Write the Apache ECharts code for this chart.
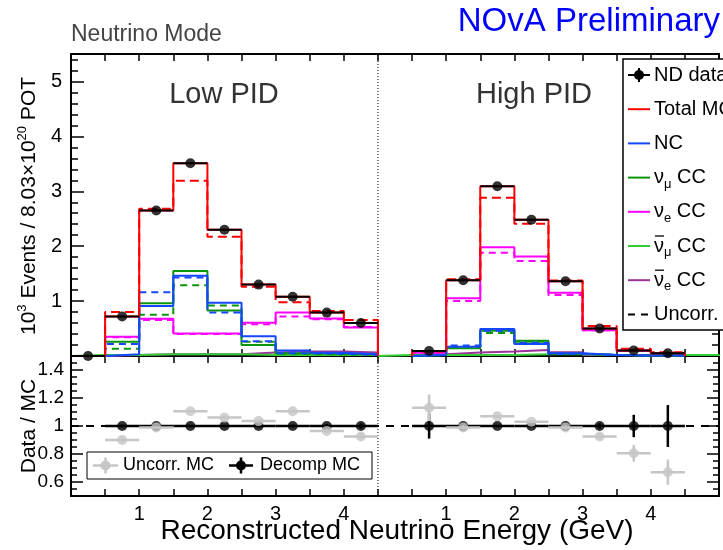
<!DOCTYPE html>
<html>
<head>
<meta charset="utf-8">
<script src="https://cdn.jsdelivr.net/npm/echarts@6/dist/echarts.min.js"></script>
<style>
  html, body { margin: 0; padding: 0; background: #fff; }
  #chart { width: 723px; height: 550px; }
</style>
</head>
<body>
<div id="chart"></div>
<script>
// ---- Binning: both PID panels share one energy axis, the high-PID panel is shifted by 4.5 GeV ----
const BIN_WIDTH = 0.5;
const HIGH_OFFSET = 4.5;
const lowEdge0 = 0.0;   // first low-PID bin starts at 0 GeV
const highEdge0 = 0.5;  // first high-PID bin starts at 0.5 GeV
const numubarHighEdge0 = 0.0; // anti-numu CC is filled over the whole high-PID range

// ---- Low PID (10^3 events) ----
const lowData      = [0, 0.72, 2.65, 3.51, 2.30, 1.30, 1.08, 0.79, 0.60];
const lowTotal     = [0, 0.72, 2.65, 3.51, 2.30, 1.30, 1.08, 0.79, 0.60];
const lowTotalUnc  = [0, 0.80, 2.68, 3.19, 2.17, 1.26, 0.98, 0.82, 0.655];
const lowNC        = [0, 0.03, 0.91, 1.46, 0.97, 0.36, 0.10, 0.06, 0.03];
const lowNCUnc     = [0, 0.22, 1.16, 1.43, 0.79, 0.27, 0.05, 0.04, 0.02];
const lowNumu      = [0, 0.26, 0.96, 1.55, 0.83, 0.20, 0.05, 0.04, 0.03];
const lowNumuUnc   = [0, 0.13, 0.75, 1.29, 0.92, 0.26, 0.04, 0.03, 0.02];
const lowNue       = [0, 0.35, 0.68, 0.41, 0.41, 0.605, 0.79, 0.685, 0.52];
const lowNueUnc    = [0, 0.34, 0.655, 0.40, 0.40, 0.58, 0.72, 0.67, 0.53];
const lowNumubar   = [0.02, 0.02, 0.03, 0.03, 0.03, 0.02, 0.02, 0.02, 0.02];
const lowNuebar    = [0, 0.02, 0.03, 0.03, 0.03, 0.065, 0.08, 0.08, 0.065];

// ---- High PID (10^3 events), bins from 0.5 to 4.5 GeV ----
const highData     = [0.09, 1.38, 3.09, 2.48, 1.36, 0.50, 0.10, 0.05];
const highTotal    = [0.09, 1.38, 3.09, 2.48, 1.36, 0.50, 0.10, 0.05];
const highTotalUnc = [0.08, 1.40, 2.88, 2.41, 1.375, 0.545, 0.13, 0.07];
const highNC       = [0.02, 0.17, 0.49, 0.22, 0.05, 0.02, 0.01, 0.01];
const highNCUnc    = [0.02, 0.19, 0.46, 0.24, 0.04, 0.02, 0.01, 0.01];
const highNumu     = [0.02, 0.14, 0.46, 0.28, 0.04, 0.02, 0.01, 0.01];
const highNumuUnc  = [0.02, 0.15, 0.42, 0.26, 0.04, 0.02, 0.01, 0.01];
const highNue      = [0.06, 1.05, 1.98, 1.81, 1.15, 0.47, 0.09, 0.04];
const highNueUnc   = [0.055, 1.00, 1.88, 1.73, 1.11, 0.47, 0.10, 0.05];
const highNuebar   = [0.03, 0.065, 0.08, 0.11, 0.07, 0.02, 0.01, 0.01];
// anti-numu CC, bins from 0 to 5 GeV
const highNumubar  = [0.02, 0.02, 0.02, 0.02, 0.03, 0.03, 0.02, 0.02, 0.02, 0.02];

// ---- Data / MC ratios (bins from 0.5 GeV in each panel) ----
const lowRatioUnc      = [0.90, 0.99, 1.105, 1.06, 1.035, 1.105, 0.965, 0.925];
const lowRatioUncErr   = [0.015, 0.005, 0.005, 0.005, 0.01, 0.01, 0.015, 0.02];
const lowRatioDecomp   = [1, 1, 1, 1, 1, 1, 1, 1];
const lowRatioDecompErr= [0.01, 0.005, 0.005, 0.005, 0.01, 0.01, 0.015, 0.02];
const highRatioUnc      = [1.13, 0.99, 1.07, 1.03, 0.99, 0.925, 0.805, 0.67];
const highRatioUncErr   = [0.095, 0.015, 0.01, 0.01, 0.015, 0.02, 0.06, 0.09];
const highRatioDecomp   = [1, 1, 1, 1, 1, 1, 1, 1];
const highRatioDecompErr= [0.09, 0.01, 0.005, 0.005, 0.01, 0.02, 0.08, 0.15];

// ---- Axis ticks ----
const energyLabels = [1, 2, 3, 4];
const eventLabels = [1, 2, 3, 4, 5];
const ratioLabels = [0.6, 0.8, 1, 1.2, 1.4];
const ratioMinor = [0.55, 0.65, 0.7, 0.75, 0.85, 0.9, 0.95, 1.05, 1.1, 1.15, 1.25, 1.3, 1.35, 1.45];

const FONT = "'Liberation Sans', Arial, Helvetica, sans-serif";
const C = {
  total: '#ff0000', nc: '#1447ff', numu: '#0a960a', nue: '#ff00ff',
  numubar: '#33cc33', nuebar: '#993399', gray: '#c6c6c6', black: '#000000'
};

// Outline of a histogram in the shared-axis coordinates
function outline(edge0, vals, shift) {
  const pts = [[shift + edge0, 0]];
  vals.forEach((v, i) => {
    pts.push([shift + edge0 + i * BIN_WIDTH, v], [shift + edge0 + (i + 1) * BIN_WIDTH, v]);
  });
  pts.push([shift + edge0 + vals.length * BIN_WIDTH, 0]);
  return pts;
}
function histSeries(name, color, dash, lowVals, highVals, z, highStart) {
  return [
    outline(lowEdge0, lowVals, 0),
    outline(highStart === undefined ? highEdge0 : highStart, highVals, HIGH_OFFSET)
  ].map(pts => ({
    type: 'line', name, xAxisIndex: 0, yAxisIndex: 0, z,
    data: pts, symbol: 'none', silent: true, animation: false,
    lineStyle: { color, width: 2, type: dash || 'solid' }
  }));
}
function centres(edge0, n, shift) {
  return Array.from({ length: n }, (_, i) => shift + edge0 + (i + 0.5) * BIN_WIDTH);
}
// Points with errors: [x, y, xErr, yErr]
function pointsWithErr(xs, ys, errs) {
  return xs.map((x, i) => [x, ys[i], BIN_WIDTH / 2, errs ? errs[i] : 0]);
}
function errorBars(color, width) {
  return function (params, api) {
    const x = api.value(0), y = api.value(1), ex = api.value(2), ey = api.value(3);
    const l = api.coord([x - ex, y]), r = api.coord([x + ex, y]);
    const t = api.coord([x, y + ey]), b = api.coord([x, y - ey]);
    return {
      type: 'group', children: [
        { type: 'line', shape: { x1: l[0], y1: l[1], x2: r[0], y2: r[1] }, style: { stroke: color, lineWidth: width } },
        { type: 'line', shape: { x1: t[0], y1: t[1], x2: b[0], y2: b[1] }, style: { stroke: color, lineWidth: width } }
      ]
    };
  };
}

const lowX = centres(lowEdge0, lowData.length, 0);
const highX = centres(highEdge0, highData.length, HIGH_OFFSET);
const lowRX = centres(0.5, lowRatioUnc.length, 0);
const highRX = centres(0.5, highRatioUnc.length, HIGH_OFFSET);

const dataPts = pointsWithErr(lowX, lowData).concat(pointsWithErr(highX, highData));
const ratioDecompPts = pointsWithErr(lowRX, lowRatioDecomp, lowRatioDecompErr)
  .concat(pointsWithErr(highRX, highRatioDecomp, highRatioDecompErr));
const ratioUncPts = pointsWithErr(lowRX, lowRatioUnc, lowRatioUncErr)
  .concat(pointsWithErr(highRX, highRatioUnc, highRatioUncErr));

function energyLabel(v) {
  for (const e of energyLabels) {
    if (Math.abs(v - e) < 1e-6 || Math.abs(v - e - HIGH_OFFSET) < 1e-6) return String(e);
  }
  return '';
}

function frameLine() {
  return { show: true, onZero: false, lineStyle: { color: '#000', width: 2 } };
}
function tickStyle() {
  return { color: '#000', width: 1.5 };
}
function xAx(grid, pos, labels) {
  return {
    type: 'value', gridIndex: grid, position: pos, min: 0, max: 9.5, interval: 0.5,
    axisLine: frameLine(), splitLine: { show: false },
    axisTick: { show: true, inside: true, length: 7, lineStyle: tickStyle() },
    axisLabel: labels ? { show: true, formatter: energyLabel, fontFamily: FONT, fontSize: 20, color: '#000', margin: 8 } : { show: false }
  };
}
function yTop(pos, labels) {
  return {
    type: 'value', gridIndex: 0, position: pos, min: 0, max: 5.5, interval: 1,
    axisLine: frameLine(), splitLine: { show: false },
    axisTick: { show: true, inside: true, length: 13, lineStyle: tickStyle() },
    minorTick: { show: true, splitNumber: 5, length: 7, lineStyle: tickStyle() },
    axisLabel: labels ? { show: true, formatter: v => (eventLabels.indexOf(v) >= 0 ? String(v) : ''), fontFamily: FONT, fontSize: 20, color: '#000', margin: 9 } : { show: false }
  };
}
function yRatio(pos, labels) {
  return {
    type: 'value', gridIndex: 1, position: pos, min: 0.5, max: 1.5,
    axisLine: frameLine(), splitLine: { show: false },
    axisTick: { show: true, inside: true, length: 12, customValues: ratioLabels, lineStyle: tickStyle() },
    axisLabel: labels ? { show: true, customValues: ratioLabels, formatter: v => String(+v.toFixed(1)), fontFamily: FONT, fontSize: 19, color: '#000', margin: 7 } : { show: false }
  };
}
function yRatioMinor(pos) {
  return {
    type: 'value', gridIndex: 1, position: pos, min: 0.5, max: 1.5,
    axisLine: { show: false, onZero: false }, splitLine: { show: false },
    axisTick: { show: true, inside: true, length: 6, customValues: ratioMinor, lineStyle: tickStyle() },
    axisLabel: { show: false }
  };
}

const series = [].concat(
  histSeries('ν̄e CC', C.nuebar, null, lowNuebar, highNuebar, 2),
  histSeries('ν̄μ CC', C.numubar, null, lowNumubar, highNumubar, 2, numubarHighEdge0),
  histSeries('νe CC uncorr', C.nue, [7, 5], lowNueUnc, highNueUnc, 3),
  histSeries('νe CC', C.nue, null, lowNue, highNue, 3),
  histSeries('νμ CC uncorr', C.numu, [7, 5], lowNumuUnc, highNumuUnc, 3),
  histSeries('νμ CC', C.numu, null, lowNumu, highNumu, 3),
  histSeries('NC uncorr', C.nc, [7, 5], lowNCUnc, highNCUnc, 4),
  histSeries('NC', C.nc, null, lowNC, highNC, 4),
  histSeries('Total MC uncorr', C.total, [9, 5], lowTotalUnc, highTotalUnc, 5),
  histSeries('Total MC', C.total, null, lowTotal, highTotal, 5),
  [
    // PID separators
    { type: 'line', xAxisIndex: 0, yAxisIndex: 0, data: [[HIGH_OFFSET, 0], [HIGH_OFFSET, 5.5]], symbol: 'none', silent: true, z: 1,
      lineStyle: { color: '#000', width: 1, type: [1, 2] } },
    { type: 'line', xAxisIndex: 2, yAxisIndex: 2, data: [[HIGH_OFFSET, 0.5], [HIGH_OFFSET, 1.5]], symbol: 'none', silent: true, z: 1,
      lineStyle: { color: '#000', width: 1, type: [1, 2] } },
    // ND data
    { type: 'custom', name: 'ND data bars', xAxisIndex: 0, yAxisIndex: 0, data: dataPts, encode: { x: 0, y: 1 },
      renderItem: errorBars(C.black, 2), z: 8, silent: true },
    { type: 'scatter', name: 'ND data', xAxisIndex: 0, yAxisIndex: 0, data: dataPts.map(p => [p[0], p[1]]),
      symbol: 'circle', symbolSize: 10, itemStyle: { color: C.black }, z: 9, clip: false, silent: true },
    // ratio reference line
    { type: 'line', xAxisIndex: 2, yAxisIndex: 2, data: [[0, 1], [9.5, 1]], symbol: 'none', silent: true, z: 2,
      lineStyle: { color: '#000', width: 2, type: [8, 7] } },
    // Decomp MC ratio
    { type: 'custom', name: 'Decomp bars', xAxisIndex: 2, yAxisIndex: 2, data: ratioDecompPts, encode: { x: 0, y: 1 },
      renderItem: errorBars(C.black, 2.5), z: 5, silent: true },
    { type: 'scatter', name: 'Decomp MC', xAxisIndex: 2, yAxisIndex: 2, data: ratioDecompPts.map(p => [p[0], p[1]]),
      symbol: 'circle', symbolSize: 10, itemStyle: { color: C.black }, z: 6, silent: true },
    // Uncorrected MC ratio
    { type: 'custom', name: 'Uncorr bars', xAxisIndex: 2, yAxisIndex: 2, data: ratioUncPts, encode: { x: 0, y: 1 },
      renderItem: errorBars(C.gray, 2.5), z: 7, silent: true },
    { type: 'scatter', name: 'Uncorr. MC', xAxisIndex: 2, yAxisIndex: 2, data: ratioUncPts.map(p => [p[0], p[1]]),
      symbol: 'circle', symbolSize: 10, itemStyle: { color: C.gray }, z: 8, silent: true }
  ]
);

// ---- Legend (drawn as graphics; the box runs past the right edge) ----
const LEG_X = 623, LEG_Y = 59, LEG_ROW = 34.2, LEG_FIRST = 75;
const legendRows = [
  { text: 'ND data', kind: 'data' },
  { text: 'Total MC', color: C.total },
  { text: 'NC', color: C.nc },
  { text: '{n|ν}{s|μ}{n| CC}', color: C.numu },
  { text: '{n|ν}{s|e}{n| CC}', color: C.nue },
  { text: '{n|ν}{s|μ}{n| CC}', color: C.numubar, bar: true },
  { text: '{n|ν}{s|e}{n| CC}', color: C.nuebar, bar: true },
  { text: 'Uncorr. MC', kind: 'dash' }
];
const legendRich = {
  n: { fontFamily: FONT, fontSize: 20, color: '#000', lineHeight: 26, verticalAlign: 'middle' },
  s: { fontFamily: FONT, fontSize: 13, color: '#000', lineHeight: 26, verticalAlign: 'bottom' }
};
const graphics = [
  { type: 'rect', z: 100, shape: { x: LEG_X, y: LEG_Y, width: 160, height: 271 },
    style: { fill: '#fff', stroke: '#000', lineWidth: 1.5 } }
];
legendRows.forEach((row, i) => {
  const y = LEG_FIRST + i * LEG_ROW;
  if (row.kind === 'data') {
    graphics.push(
      { type: 'line', z: 101, shape: { x1: 628, y1: y, x2: 650, y2: y }, style: { stroke: '#000', lineWidth: 2 } },
      { type: 'line', z: 101, shape: { x1: 639, y1: y - 7, x2: 639, y2: y + 7 }, style: { stroke: '#000', lineWidth: 2 } },
      { type: 'circle', z: 102, shape: { cx: 639, cy: y, r: 5 }, style: { fill: '#000' } }
    );
  } else if (row.kind === 'dash') {
    graphics.push({ type: 'line', z: 101, shape: { x1: 628, y1: y, x2: 650, y2: y },
      style: { stroke: '#000', lineWidth: 2, lineDash: [7, 6] } });
  } else {
    graphics.push({ type: 'line', z: 101, shape: { x1: 628, y1: y, x2: 650, y2: y },
      style: { stroke: row.color, lineWidth: 2 } });
  }
  if (row.bar) {
    // bar over the antineutrino symbol
    graphics.push({ type: 'line', z: 101, shape: { x1: 655, y1: y - 10, x2: 664, y2: y - 10 },
      style: { stroke: '#000', lineWidth: 1.3 } });
  }
  const isRich = row.text.indexOf('{') === 0;
  graphics.push({
    type: 'text', z: 101, x: 654, y: y,
    style: isRich
      ? { text: row.text, rich: legendRich, textVerticalAlign: 'middle', textAlign: 'left' }
      : { text: row.text, fontFamily: FONT, fontSize: 20, fill: '#000', textVerticalAlign: 'middle', textAlign: 'left' }
  });
});

// ---- Ratio legend ----
const RL_Y = 465.5;
graphics.push(
  { type: 'rect', z: 100, shape: { x: 87, y: 452, width: 285, height: 27 }, style: { fill: '#fff', stroke: '#000', lineWidth: 1 } },
  { type: 'line', z: 101, shape: { x1: 93, y1: RL_Y, x2: 118, y2: RL_Y }, style: { stroke: C.gray, lineWidth: 2.5 } },
  { type: 'line', z: 101, shape: { x1: 105.5, y1: RL_Y - 8, x2: 105.5, y2: RL_Y + 8 }, style: { stroke: C.gray, lineWidth: 2.5 } },
  { type: 'circle', z: 102, shape: { cx: 105.5, cy: RL_Y, r: 5 }, style: { fill: C.gray } },
  { type: 'text', z: 101, x: 123, y: RL_Y, style: { text: 'Uncorr. MC', fontFamily: FONT, fontSize: 18, fill: '#000', textVerticalAlign: 'middle' } },
  { type: 'line', z: 101, shape: { x1: 229, y1: RL_Y, x2: 253, y2: RL_Y }, style: { stroke: '#000', lineWidth: 2.5 } },
  { type: 'line', z: 101, shape: { x1: 241, y1: RL_Y - 8, x2: 241, y2: RL_Y + 8 }, style: { stroke: '#000', lineWidth: 2.5 } },
  { type: 'circle', z: 102, shape: { cx: 241, cy: RL_Y, r: 5 }, style: { fill: '#000' } },
  { type: 'text', z: 101, x: 260, y: RL_Y, style: { text: 'Decomp MC', fontFamily: FONT, fontSize: 18, fill: '#000', textVerticalAlign: 'middle' } }
);

// ---- Titles and panel labels ----
graphics.push(
  { type: 'text', x: 720, y: 22, style: { text: 'NOvA Preliminary', fontFamily: FONT, fontSize: 33, fill: '#0000ff', textAlign: 'right', textVerticalAlign: 'middle' } },
  { type: 'text', x: 71, y: 35, style: { text: 'Neutrino Mode', fontFamily: FONT, fontSize: 23, fill: '#444', textAlign: 'left', textVerticalAlign: 'middle' } },
  { type: 'text', x: 224, y: 95, style: { text: 'Low PID', fontFamily: FONT, fontSize: 29, fill: '#333', textAlign: 'center', textVerticalAlign: 'middle' } },
  { type: 'text', x: 534, y: 95, style: { text: 'High PID', fontFamily: FONT, fontSize: 29, fill: '#333', textAlign: 'center', textVerticalAlign: 'middle' } },
  { type: 'text', x: 397, y: 531, style: { text: 'Reconstructed Neutrino Energy (GeV)', fontFamily: FONT, fontSize: 28, fill: '#000', textAlign: 'center', textVerticalAlign: 'middle' } },
  { type: 'text', x: 29, y: 206, rotation: Math.PI / 2,
    style: { text: '{n|10}{p|3}{n| Events / 8.03×10}{p|20}{n| POT}', textAlign: 'center', textVerticalAlign: 'middle',
      rich: {
        n: { fontFamily: FONT, fontSize: 21, fill: '#000', color: '#000', lineHeight: 26, verticalAlign: 'middle' },
        p: { fontFamily: FONT, fontSize: 13, fill: '#000', color: '#000', lineHeight: 26, verticalAlign: 'top' }
      } } },
  { type: 'text', x: 29, y: 426, rotation: Math.PI / 2,
    style: { text: 'Data / MC', fontFamily: FONT, fontSize: 21, fill: '#000', textAlign: 'center', textVerticalAlign: 'middle' } }
);

const chart = echarts.init(document.getElementById('chart'), null, { renderer: 'canvas', width: 723, height: 550 });
chart.setOption({
  animation: false,
  backgroundColor: '#fff',
  grid: [
    { left: 71, top: 54, width: 648, height: 302 },
    { left: 71, top: 356, width: 648, height: 140 }
  ],
  xAxis: [xAx(0, 'bottom', false), xAx(0, 'top', false), xAx(1, 'bottom', true), xAx(1, 'top', false)],
  yAxis: [yTop('left', true), yTop('right', false), yRatio('left', true), yRatio('right', false),
          yRatioMinor('left'), yRatioMinor('right')],
  series,
  graphic: graphics
});
</script>
</body>
</html>
